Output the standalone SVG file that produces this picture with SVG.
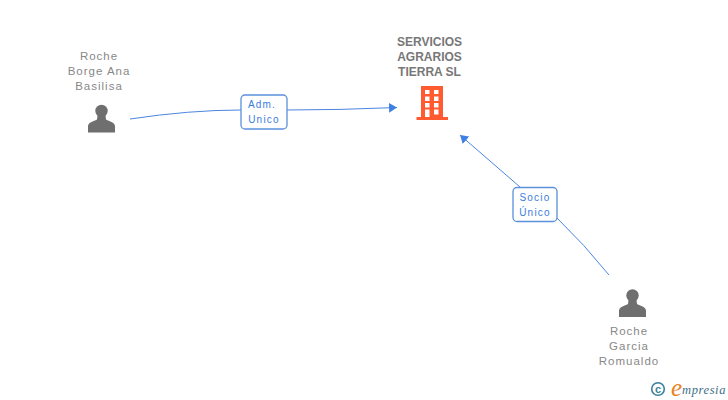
<svg xmlns="http://www.w3.org/2000/svg" width="728" height="400" viewBox="0 0 728 400">
<style>
text{font-family:"Liberation Sans",Arial,sans-serif}
.n{font-size:11.500px;fill:#888;letter-spacing:1px;text-anchor:middle}
.c{font-size:12px;font-weight:bold;fill:#777;text-anchor:middle}
.l{font-size:10px;fill:#3a7de0;letter-spacing:1.200px;text-anchor:middle}
.e{fill:none;stroke:#4a86e0;stroke-width:1}
.b{fill:#fff;stroke:#5b90dd;stroke-width:1.300}
.p{fill:#6f6f6f}
.h{fill:#ff5a30}
.w{fill:#fff}
</style>
<defs>
<marker id="a" markerUnits="userSpaceOnUse" markerWidth="9" markerHeight="10" refX="8" refY="5" orient="auto"><path d="M0 0L8 5L0 10z" fill="#3f80e2"/></marker>
<g id="person"><circle cx="0" cy="-8.500" r="6.200" class="p"/><path class="p" d="M-4 -4L4 -4L4.500 0C8 2 13 2.500 13.500 6.500L13.500 13L-13.500 13L-13.500 6.500C-13 2.500 -8 2 -4.500 0z"/></g>
</defs>
<g id="connectors">
<path class="e" d="M130 119Q190 110 241 110"/>
<path class="e" d="M287 110Q340 110 397 107.500" marker-end="url(#a)"/>
<path class="e" d="M520 187L460 135" marker-end="url(#a)"/>
<path class="e" d="M557 218Q585 245 609 275"/>
</g>
<g id="node-roche-borge">
<text class="n" x="99" y="60">Roche</text>
<text class="n" x="99" y="75">Borge Ana</text>
<text class="n" x="99" y="90">Basilisa</text>
<use href="#person" x="101.500" y="119.500"/>
</g>
<g id="node-servicios">
<text class="c" x="429.500" y="46">SERVICIOS</text>
<text class="c" x="429.500" y="61">AGRARIOS</text>
<text class="c" x="429.500" y="76">TIERRA SL</text>
<path class="h" d="M421 86H443V117H448V120H416.500V117H421z"/>
<g class="w"><rect x="425" y="90" width="4.500" height="4"/><rect x="434" y="90" width="4.500" height="4"/><rect x="425" y="96.500" width="4.500" height="4.500"/><rect x="434" y="96.500" width="4.500" height="4.500"/><rect x="425" y="103" width="4.500" height="4.500"/><rect x="434" y="103" width="4.500" height="4.500"/><rect x="425" y="109.500" width="4.500" height="7.500"/><rect x="434" y="109.500" width="4.500" height="5"/></g>
</g>
<g id="node-roche-garcia">
<use href="#person" x="632.500" y="304"/>
<text class="n" x="629" y="335">Roche</text>
<text class="n" x="629" y="350">Garcia</text>
<text class="n" x="629" y="365">Romualdo</text>
</g>
<g id="label-adm">
<rect class="b" x="241" y="95" width="46" height="34" rx="4"/>
<text class="l" x="262" y="108">Adm.</text>
<text class="l" x="264" y="123">Unico</text>
</g>
<g id="label-socio">
<rect class="b" x="513" y="187.500" width="44" height="34" rx="4"/>
<text class="l" x="535" y="201">Socio</text>
<text class="l" x="535" y="216">Único</text>
</g>
<g id="logo">
<circle cx="658" cy="389" r="6.300" fill="none" stroke="#3a7f9c" stroke-width="1.600"/>
<text x="658" y="393" font-size="11" font-weight="bold" fill="#3a7f9c" text-anchor="middle">c</text>
<text x="671" y="396" font-size="25" font-style="italic" fill="#e8831e" style="font-family:'Liberation Serif',serif">e</text>
<text x="682" y="394" font-size="12.500" font-style="italic" fill="#3d6f86" style="font-family:'Liberation Serif',serif" letter-spacing=".6">mpresia</text>
</g>
</svg>
